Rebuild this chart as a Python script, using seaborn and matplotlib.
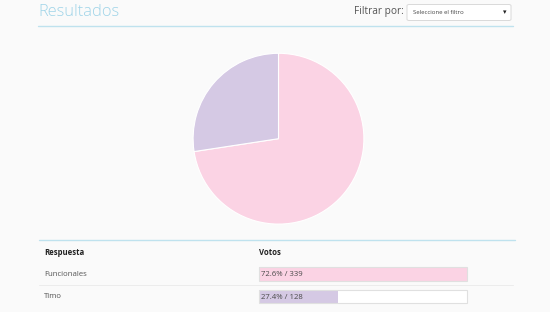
import matplotlib
matplotlib.use("Agg")
import matplotlib.pyplot as plt
from matplotlib.lines import Line2D
from matplotlib.patches import FancyBboxPatch
import seaborn as sns

respuestas = ["Funcionales", "Timo"]
votos = [339, 128]
colores = ["#fbd3e4", "#d5c9e4"]
titulo = "Resultados"
filtro_label = "Filtrar por:"
filtro_valor = "Seleccione el filtro"
col_respuesta = "Respuesta"
col_votos = "Votos"

sns.set_theme(style="white")
plt.rcParams["font.family"] = ["Open Sans", "DejaVu Sans"]

W, H = 550, 312
fig = plt.figure(figsize=(W / 100, H / 100), dpi=100, facecolor="#fafafa")


def fx(x):
    return x / W


def fy(y):
    return 1 - y / H


def hline(x0, x1, y, color, lw):
    fig.add_artist(Line2D([fx(x0), fx(x1)], [fy(y), fy(y)], color=color, lw=lw,
                          transform=fig.transFigure))


# Header
fig.text(fx(38), fy(11.5), titulo, fontsize=11.8, color="#9fd4e8", va="center",
         ha="left", fontweight="light")
fig.text(fx(404), fy(11.5), filtro_label, fontsize=7.3, color="#555555",
         va="center", ha="right")
fig.add_artist(FancyBboxPatch((fx(407), fy(20.5)), fx(104), 16 / H,
                              boxstyle="round,pad=0,rounding_size=0.004",
                              transform=fig.transFigure, facecolor="white",
                              edgecolor="#d9d9d9", lw=0.7))
fig.text(fx(413), fy(12.5), filtro_valor, fontsize=4.3, color="#444444",
         va="center", ha="left")
fig.text(fx(505), fy(12.3), "▾", fontsize=5, color="#222222", va="center",
         ha="center", family=["DejaVu Sans"])
hline(38, 513, 25.5, "#bfe2ee", 1.0)

# Pie
cx, cy, r = 278.5, 138.7, 85.4
axp = fig.add_axes([fx(cx - r), fy(cy + r), 2 * r / W, 2 * r / H])
axp.pie(votos, colors=colores, startangle=90, counterclock=False,
        wedgeprops=dict(edgecolor="white", linewidth=0.8))
axp.set_xlim(-1, 1)
axp.set_ylim(-1, 1)
axp.set_aspect("equal")
axp.axis("off")

# Table
hline(39, 515, 240, "#bfe2ee", 1.0)
fig.text(fx(44), fy(252.3), col_respuesta, fontsize=5.6, color="#222222",
         fontweight="bold", va="center", ha="left")
fig.text(fx(259), fy(252.3), col_votos, fontsize=5.6, color="#222222",
         fontweight="bold", va="center", ha="left")
row_y = [274, 296.7]
for lab, yy in zip(respuestas, row_y):
    fig.text(fx(44), fy(yy), lab, fontsize=5.6, color="#555555", va="center",
             ha="left")
hline(39, 513, 285.3, "#ececec", 0.7)

step = row_y[1] - row_y[0]
x0, x1 = 259, 467
axb = fig.add_axes([fx(x0), fy(row_y[1] + step / 2), (x1 - x0) / W, 2 * step / H])
vmax = max(votos)
bh = 13.3 / step
axb.barh(range(len(votos)), [vmax] * len(votos), height=bh, color="white",
         linewidth=0, zorder=0)
sns.barplot(x=votos, y=respuestas, hue=respuestas, palette=colores, orient="h",
            width=bh, legend=False, ax=axb, zorder=1, linewidth=0, saturation=1)
outl = axb.barh(range(len(votos)), [vmax] * len(votos), height=bh, fill=False,
                edgecolor="#e0e0e0", linewidth=0.8, zorder=2)
for p in outl:
    p.set_clip_on(False)
total = sum(votos)
for i, v in enumerate(votos):
    axb.text(vmax * 0.012, i + 0.02, f"{100 * v / total:.1f}% / {v}", fontsize=5.6,
             color="#4a4a4a", va="center", ha="left", zorder=3)
axb.set_xlim(0, vmax)
axb.set_ylim(len(votos) - 0.5, -0.5)
axb.axis("off")

fig.savefig("out.png", dpi=100, facecolor=fig.get_facecolor())
